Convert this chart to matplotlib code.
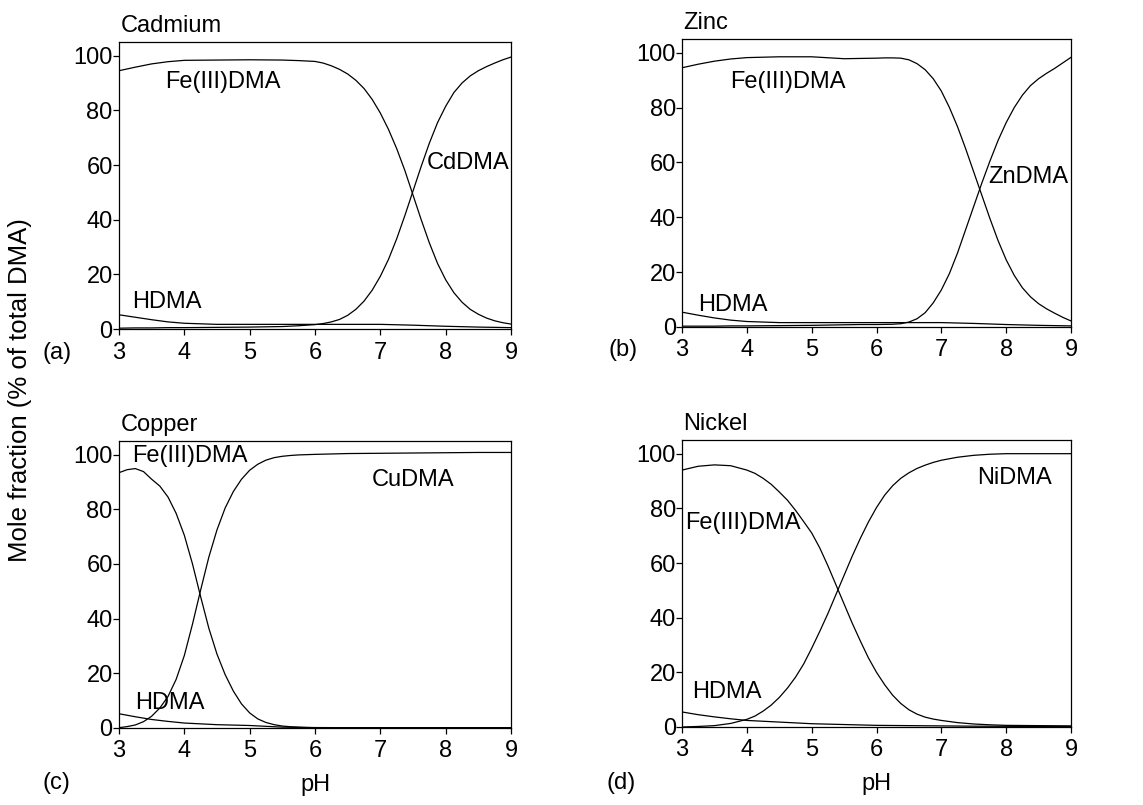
import matplotlib
matplotlib.use("Agg")
import matplotlib.pyplot as plt

plt.rcParams['font.family'] = ['Liberation Sans', 'DejaVu Sans']

# ---------------- data ----------------
# HDMA curves (common pH grid)
pH_h = [3, 3.25, 3.5, 3.75, 4, 4.5, 5, 5.5, 6, 6.5, 7, 7.5, 8, 8.5, 9]
cd_h = [5.2, 4.3, 3.4, 2.6, 2.1, 1.7, 1.7, 1.7, 1.7, 1.7, 1.7, 1.4, 1.0, 0.7, 0.5]
zn_h = [5.4, 4.3, 3.3, 2.5, 2.0, 1.6, 1.6, 1.6, 1.6, 1.6, 1.6, 1.3, 0.9, 0.6, 0.4]
cu_h = [5.2, 4.1, 3.1, 2.4, 1.8, 1.2, 0.9, 0.3, 0.1, 0.1, 0.1, 0.1, 0.1, 0.1, 0.1]
ni_h = [5.5, 4.5, 3.7, 3.0, 2.4, 1.8, 1.2, 0.9, 0.6, 0.5, 0.4, 0.3, 0.25, 0.2, 0.2]

# (a) Cadmium and (b) Zinc
pH_ab = [3, 3.25, 3.5, 3.75, 4, 4.5, 5, 5.5, 5.75, 6,
         6.125, 6.25, 6.375, 6.5, 6.625, 6.75, 6.875, 7, 7.125, 7.25, 7.375, 7.5,
         7.625, 7.75, 7.875, 8, 8.125, 8.25, 8.375, 8.5, 8.625, 8.75, 8.875, 9]
cd_fe = [94.5, 95.8, 97.0, 97.8, 98.3, 98.4, 98.5, 98.4, 98.2, 97.9,
         97.3, 96.3, 95.0, 93.3, 91.0, 88.0, 84.0, 79.0, 73.0, 66.0, 58.0, 49.0,
         40.0, 31.5, 24.0, 18.0, 13.3, 9.8, 7.2, 5.4, 4.0, 3.0, 2.3, 1.8]
cd_m = [0.3, 0.4, 0.4, 0.5, 0.5, 0.6, 0.7, 0.9, 1.2, 1.6,
        2.0, 2.6, 3.5, 5.0, 7.2, 10.2, 14.2, 19.3, 25.5, 33.0, 41.5, 50.5,
        59.5, 68.0, 75.5, 81.5, 86.5, 90.0, 92.6, 94.5, 96.0, 97.3, 98.5, 99.5]
zn_fe = [94.5, 95.8, 96.9, 97.7, 98.2, 98.5, 98.5, 97.8, 97.9, 98.0,
         98.1, 98.1, 98.0, 97.4, 96.0, 93.8, 90.5, 86.0, 80.0, 73.0, 65.0, 56.5,
         48.0, 39.5, 31.5, 24.5, 18.8, 14.3, 11.0, 8.5, 6.6, 5.0, 3.5, 2.2]
zn_m = [0.3, 0.3, 0.3, 0.4, 0.4, 0.5, 0.6, 0.8, 0.9, 0.9,
        0.95, 1.0, 1.2, 1.8, 3.0, 5.2, 8.8, 13.5, 19.5, 27.0, 35.5, 44.0,
        52.5, 60.5, 68.0, 74.5, 80.0, 84.5, 88.0, 90.5, 92.5, 94.3, 96.3, 98.3]

# (c) Copper
pH_c = [3, 3.125, 3.25, 3.375, 3.5, 3.625, 3.75, 3.875, 4, 4.125, 4.25, 4.375, 4.5,
        4.625, 4.75, 4.875, 5, 5.125, 5.25, 5.375, 5.5, 5.625, 5.75, 5.875, 6,
        6.5, 7, 7.5, 8, 8.5, 9]
cu_fe = [93.4, 94.5, 94.9, 93.8, 91.0, 88.5, 84.5, 78.5, 70.5, 60.0, 48.0, 36.5, 27.0,
         19.5, 13.5, 8.8, 5.5, 3.3, 2.0, 1.2, 0.7, 0.45, 0.3, 0.2, 0.15,
         0.1, 0.1, 0.1, 0.1, 0.1, 0.1]
cu_m = [0.1, 0.5, 1.1, 2.3, 4.3, 7.3, 11.5, 17.8, 26.5, 38.0, 50.5, 62.5, 72.5,
        80.5, 86.5, 91.0, 94.3, 96.5, 98.0, 98.9, 99.4, 99.7, 99.9, 100.0, 100.1,
        100.4, 100.5, 100.6, 100.7, 100.8, 100.8]

# (d) Nickel
pH_d = [3, 3.25, 3.5, 3.75, 4, 4.125, 4.25, 4.375, 4.5, 4.625, 4.75, 4.875, 5,
        5.125, 5.25, 5.375, 5.5, 5.625, 5.75, 5.875, 6, 6.125, 6.25, 6.375, 6.5,
        6.625, 6.75, 6.875, 7, 7.25, 7.5, 7.75, 8, 8.5, 9]
ni_fe = [94.0, 95.4, 95.9, 95.6, 94.0, 92.8, 91.0, 88.8, 86.0, 83.0, 79.3, 75.2, 71.0,
         65.5, 59.0, 52.0, 45.0, 38.0, 31.5, 25.3, 20.0, 15.5, 11.6, 8.6, 6.3,
         4.7, 3.6, 2.9, 2.4, 1.6, 1.1, 0.8, 0.6, 0.5, 0.4]
ni_m = [0.0, 0.2, 0.5, 1.3, 2.8, 4.0, 5.8, 8.0, 10.8, 14.2, 18.2, 23.0, 28.8,
        35.0, 41.5, 48.5, 55.5, 62.5, 69.0, 75.0, 80.3, 84.8, 88.3, 91.0, 93.0,
        94.6, 95.8, 96.8, 97.6, 98.7, 99.4, 99.8, 100.0, 100.0, 100.0]

titles = ["Cadmium", "Zinc", "Copper", "Nickel"]
panel_tags = ["(a)", "(b)", "(c)", "(d)"]
metal_labels = ["CdDMA", "ZnDMA", "CuDMA", "NiDMA"]
yticks = [0, 20, 40, 60, 80, 100]
xticks = [3, 4, 5, 6, 7, 8, 9]

FS = 17
fig = plt.figure(figsize=(11.43, 8.05), dpi=100)

rects = [
    [0.1041, 0.5913, 0.3430, 0.3565],
    [0.5967, 0.5938, 0.3403, 0.3578],
    [0.1041, 0.0957, 0.3430, 0.3565],
    [0.5967, 0.0969, 0.3403, 0.3565],
]
series = [
    (pH_ab, cd_fe, cd_m, cd_h),
    (pH_ab, zn_fe, zn_m, zn_h),
    (pH_c, cu_fe, cu_m, cu_h),
    (pH_d, ni_fe, ni_m, ni_h),
]

fe_pos = [(3.7, 90.5), (3.74, 89.4), (3.2, 99.6), (3.05, 74.8)]
m_pos = [(7.71, 60.8), (7.72, 54.7), (6.87, 90.8), (7.55, 91.2)]
h_pos = [(3.2, 9.9), (3.25, 8.0), (3.25, 9.2), (3.15, 12.8)]
tag_pos = [(0.0376, 0.5615), (0.532, 0.565), (0.0376, 0.027), (0.531, 0.027)]

for i, r in enumerate(rects):
    ax = fig.add_axes(r)
    x, fe, m, h = series[i]
    ax.plot(x, fe, color='black', lw=0.9)
    ax.plot(x, m, color='black', lw=0.9)
    ax.plot(pH_h, h, color='black', lw=0.9)
    ax.set_xlim(3, 9)
    ax.set_ylim(0, 105)
    ax.set_xticks(xticks)
    ax.set_yticks(yticks)
    ax.tick_params(direction='out', length=4, width=0.9, labelsize=FS, top=False, right=False)
    ax.tick_params(axis='y', pad=0.5)
    ax.tick_params(axis='x', pad=5)
    for sp in ax.spines.values():
        sp.set_linewidth(0.9)
    ax.text(3.02, 111, titles[i], fontsize=FS, va='center', ha='left', clip_on=False)
    ax.text(*fe_pos[i], "Fe(III)DMA", fontsize=FS, va='center', ha='left')
    ax.text(*m_pos[i], metal_labels[i], fontsize=FS, va='center', ha='left')
    ax.text(*h_pos[i], "HDMA", fontsize=FS, va='center', ha='left')
    if i >= 2:
        ax.set_xlabel("pH", fontsize=FS, labelpad=8)
    fig.text(*tag_pos[i], panel_tags[i], fontsize=FS, va='center', ha='left')

fig.text(0.0175, 0.5155, "Mole fraction (% of total DMA)", fontsize=18.5, rotation=90,
         va='center', ha='center')

fig.savefig("out.png", dpi=100)
